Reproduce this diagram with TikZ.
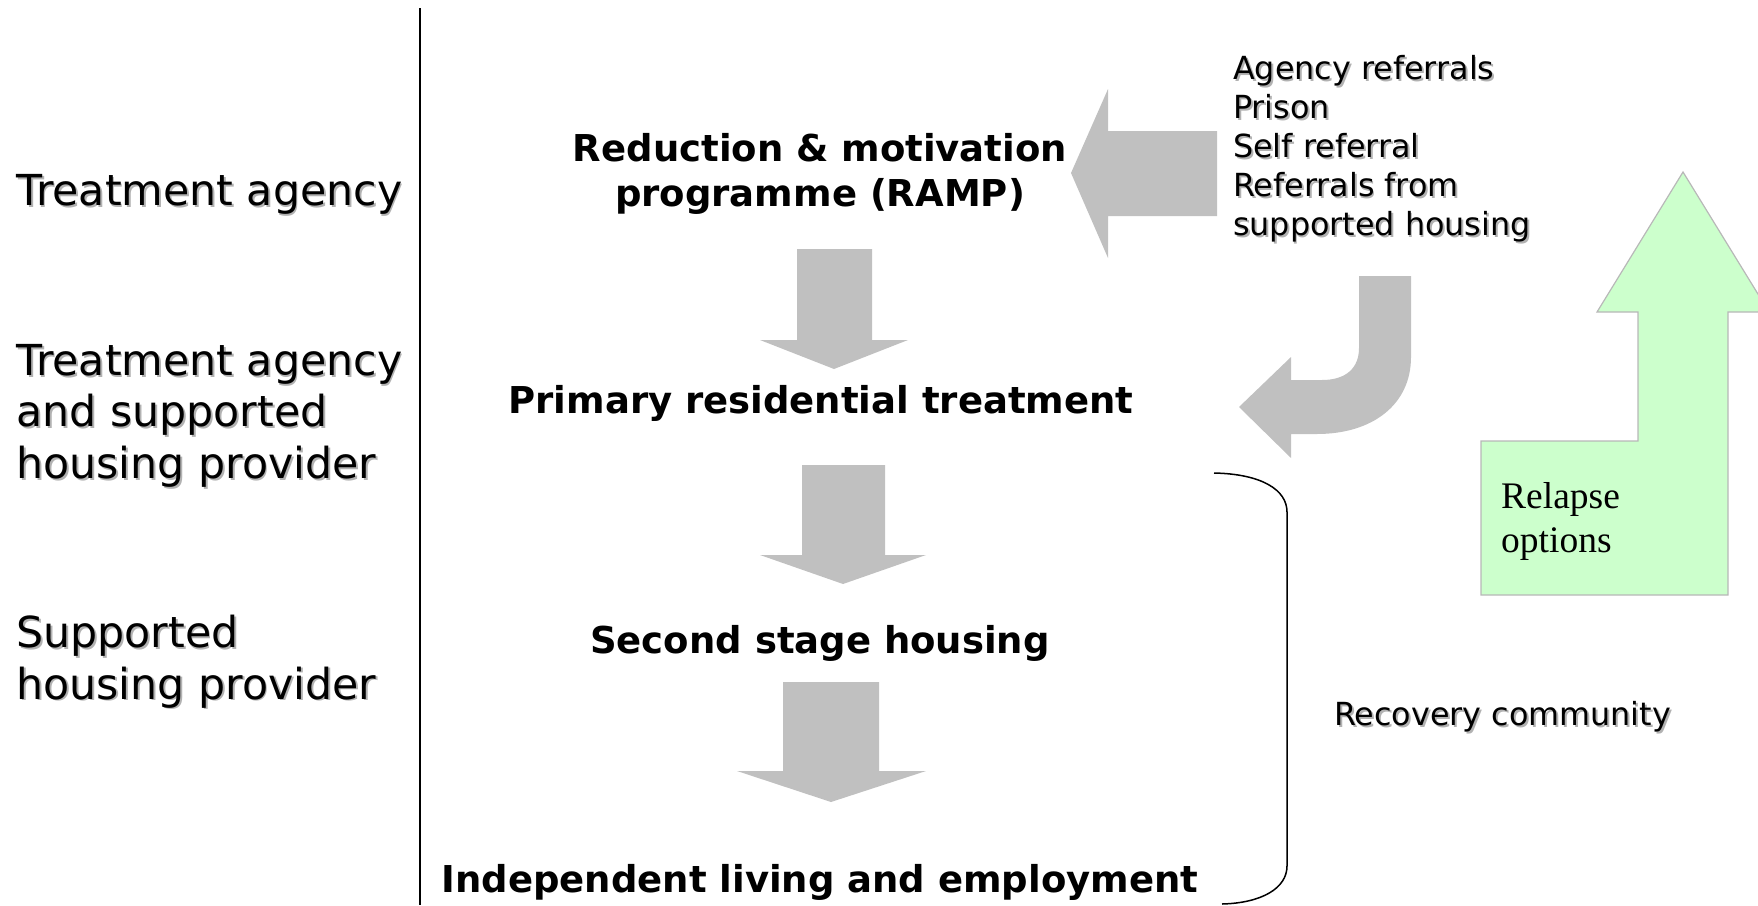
\documentclass[tikz,border=0pt]{standalone}
\usepackage{fontspec}
\setmainfont{DejaVu Sans}
\newfontfamily\serifrm{Liberation Serif}

\definecolor{blockgray}{HTML}{C0C0C0}
\definecolor{relapsegreen}{HTML}{CCFFCC}
\definecolor{relapseedge}{HTML}{B8B8B8}

% text with a soft grey drop shadow
\newcommand{\shd}[1]{\rlap{\kern1.8pt\raisebox{-1.8pt}{\textcolor{black!30}{#1}}}#1}

\tikzset{
  side/.style={anchor=west, align=left, inner sep=0pt, font=\fontsize{42.7}{51.5}\selectfont},
  stage/.style={align=center, inner sep=0pt, font=\fontsize{37}{45}\bfseries\selectfont},
  note/.style={anchor=west, align=left, inner sep=0pt, font=\fontsize{31.8}{39}\selectfont},
}

\begin{document}
\begin{tikzpicture}[x=1pt, y=-1pt]
  \useasboundingbox (0,0) rectangle (1758,905);

  % who runs each stage
  \node[side] (agency) at (16,195.5) {\shd{Treatment agency}};
  \node[side] (shared) at (16,416.5) {\shd{Treatment agency}\\\shd{and supported}\\\shd{housing provider}};
  \node[side] (housing) at (16,662.5) {\shd{Supported}\\\shd{housing provider}};
  \draw[line width=1.5pt] (420,8) -- (420,905);

  % the stages
  \node[stage] (ramp) at (820,173.5) {Reduction \& motivation\\programme (RAMP)};
  \node[stage] (primary) at (821,403.5) {Primary residential treatment};
  \node[stage] (second) at (820,643.5) {Second stage housing};
  \node[stage] (independent) at (820,882) {Independent living and employment};

  % block arrows between the stages
  \fill[blockgray] (797,249) -- (872,249) -- (872,340) -- (908,340) -- (834,369) -- (760,340) -- (797,340) -- cycle;
  \fill[blockgray] (802,465) -- (885,465) -- (885,555) -- (926,555) -- (843,584) -- (760,555) -- (802,555) -- cycle;
  \fill[blockgray] (783,682) -- (879,682) -- (879,771) -- (926,771) -- (831,802) -- (737,771) -- (783,771) -- cycle;

  % ways in
  \node[note] (referrals) at (1233,149.5) {\shd{Agency referrals}\\\shd{Prison}\\\shd{Self referral}\\\shd{Referrals from}\\\shd{supported housing}};
  \fill[blockgray] (1071,173) -- (1108,89) -- (1108,131) -- (1217,131) -- (1217,216) -- (1108,216) -- (1108,258) -- cycle;
  \fill[blockgray] (1359,276) -- (1411,276) -- (1411,357)
    .. controls (1411,405) and (1372,434) .. (1317,434) -- (1291,434) -- (1291,458)
    -- (1239,407) -- (1291,357) -- (1291,380) -- (1322,380)
    .. controls (1346,380) and (1359,368) .. (1359,348) -- cycle;

  % recovery community bracket
  \draw[line width=1.5pt] (1214,473) .. controls (1262,474) and (1287,490) .. (1287,512)
    -- (1287,866) .. controls (1287,888) and (1262,903) .. (1222,904);
  \node[note] (recovery) at (1334,717.5) {\shd{Recovery community}};

  % relapse
  \filldraw[fill=relapsegreen, draw=relapseedge, line width=1.2pt]
    (1683,172) -- (1769,312) -- (1728,312) -- (1728,595) -- (1481,595) -- (1481,441)
    -- (1638,441) -- (1638,312) -- (1597,312) -- cycle;
  \node[anchor=west, align=left, inner sep=0pt, font=\serifrm\fontsize{37.5}{44}\selectfont] (relapse) at (1501,521) {Relapse\\options};
\end{tikzpicture}
\end{document}
